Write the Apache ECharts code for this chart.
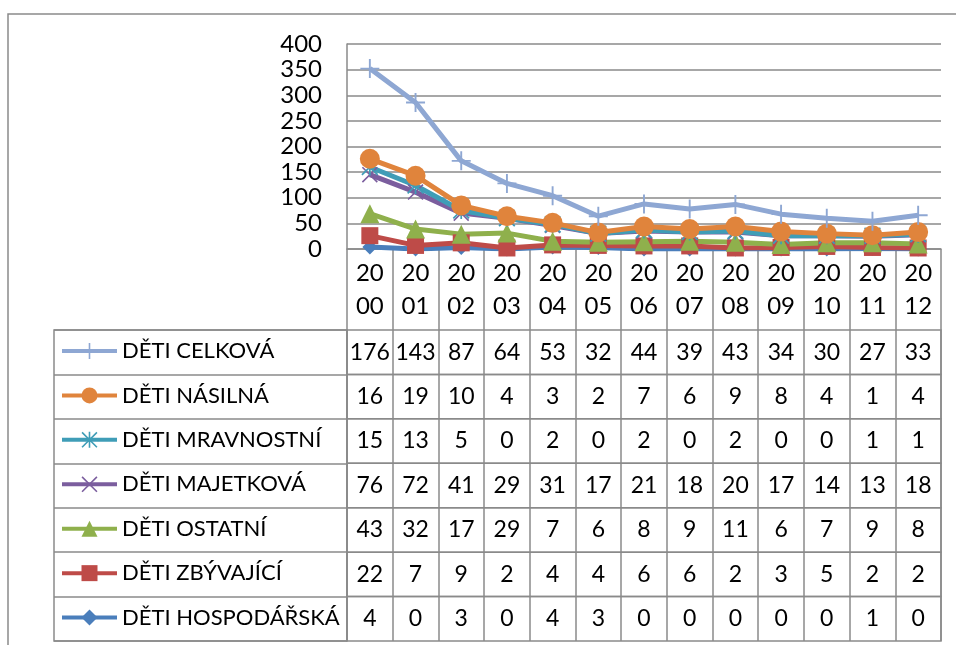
<!DOCTYPE html>
<html>
<head>
<meta charset="utf-8">
<script src="https://cdn.jsdelivr.net/npm/echarts@6/dist/echarts.min.js"></script>
<style>
  html, body { margin: 0; padding: 0; background: #fff; }
  #chart { width: 956px; height: 645px; }
</style>
</head>
<body>
<div id="chart"></div>
<script>
var years = ['2000','2001','2002','2003','2004','2005','2006','2007','2008','2009','2010','2011','2012'];
var celkova     = [176,143,87,64,53,32,44,39,43,34,30,27,33];
var nasilna     = [16,19,10,4,3,2,7,6,9,8,4,1,4];
var mravnostni  = [15,13,5,0,2,0,2,0,2,0,0,1,1];
var majetkova   = [76,72,41,29,31,17,21,18,20,17,14,13,18];
var ostatni     = [43,32,17,29,7,6,8,9,11,6,7,9,8];
var zbyvajici   = [22,7,9,2,4,4,6,6,2,3,5,2,2];
var hospodarska = [4,0,3,0,4,3,0,0,0,0,0,1,0];
var yTicks = { min: 0, max: 400, step: 50 };

// layout
var FONT = 'Lato';
var FS = 24;
var GRAY = '#8a8a8a';
var PLOT_L = 347, PLOT_R = 15, PLOT_T = 44, PLOT_B = 396;
var HEAD_B = 330, TABLE_B = 641, LEFT_COL = 54;
var ROW_H = (TABLE_B - HEAD_B) / 7;

var P_PLUS = 'path://M9,0L11,0L11,9L20,9L20,11L11,11L11,20L9,20L9,11L0,11L0,9L9,9Z';
var P_X = 'path://M1.4,0L20,18.6L18.6,20L0,1.4ZM18.6,0L20,1.4L1.4,20L0,18.6Z';
var P_STAR = 'path://M1.4,0L20,18.6L18.6,20L0,1.4ZM18.6,0L20,1.4L1.4,20L0,18.6ZM9,0L11,0L11,20L9,20Z';

// bottom of the stack first (Excel series order)
var seriesDefs = [
  { name: 'DĚTI HOSPODÁŘSKÁ', data: hospodarska, color: '#4a7ebb', symbol: 'diamond', size: 15 },
  { name: 'DĚTI ZBÝVAJÍCÍ',   data: zbyvajici,   color: '#be4b48', symbol: 'rect',    size: 17 },
  { name: 'DĚTI OSTATNÍ',     data: ostatni,     color: '#8fb04c', symbol: 'triangle', size: 19 },
  { name: 'DĚTI MAJETKOVÁ',   data: majetkova,   color: '#7b5e9e', symbol: P_X,       size: 16 },
  { name: 'DĚTI MRAVNOSTNÍ',  data: mravnostni,  color: '#3f9db7', symbol: P_STAR,    size: 17 },
  { name: 'DĚTI NÁSILNÁ',     data: nasilna,     color: '#e0843c', symbol: 'circle',  size: 20 },
  { name: 'DĚTI CELKOVÁ',     data: celkova,     color: '#8ea7d3', symbol: P_PLUS,    size: 19 }
];
// the data table lists them top of the stack first
var tableRows = seriesDefs.slice().reverse();

var grids = [{ left: PLOT_L, right: PLOT_R, top: PLOT_T, bottom: PLOT_B }];
var xAxes = [{
  type: 'category', data: years, gridIndex: 0, boundaryGap: true,
  axisLine: { lineStyle: { color: GRAY, width: 1.5 } },
  axisTick: { show: true, interval: 0, length: HEAD_B - (645 - PLOT_B), lineStyle: { color: GRAY, width: 1.5 } },
  axisLabel: {
    interval: 0, margin: 8, color: '#000', fontFamily: FONT, fontSize: FS, lineHeight: 33,
    formatter: function (v) { return v.slice(0, 2) + '\n' + v.slice(2); }
  }
}];
var yAxes = [{
  type: 'value', gridIndex: 0, min: yTicks.min, max: yTicks.max, interval: yTicks.step,
  axisLine: { show: true, lineStyle: { color: GRAY, width: 1.5 } },
  axisTick: { show: false },
  axisLabel: { margin: 25, color: '#000', fontFamily: FONT, fontSize: FS },
  splitLine: { lineStyle: { color: GRAY, width: 1.5 } }
}];
var legends = [];

tableRows.forEach(function (row, i) {
  var top = HEAD_B + i * ROW_H;
  grids.push({ left: PLOT_L, right: PLOT_R, top: top, height: ROW_H, show: true,
    borderColor: GRAY, borderWidth: 1.5, backgroundColor: 'transparent' });
  xAxes.push({
    type: 'category', data: years, gridIndex: i + 1,
    axisLine: { show: false }, axisTick: { show: false },
    splitLine: { show: true, interval: 0, lineStyle: { color: GRAY, width: 1.5 } },
    axisLabel: {
      interval: 0, margin: -ROW_H / 2, verticalAlign: 'middle',
      color: '#000', fontFamily: FONT, fontSize: 23,
      formatter: function (v, idx) { return String(row.data[idx]); }
    }
  });
  yAxes.push({ type: 'value', gridIndex: i + 1, show: false });
  legends.push({
    data: [row.name], left: 60, top: top + 10, padding: 0, selectedMode: false,
    itemWidth: 55, itemHeight: 20,
    lineStyle: { width: 4 },
    textStyle: { color: '#000', fontFamily: FONT, fontSize: 22 }
  });
});

// left column of the table (legend cells)
grids.push({ left: LEFT_COL, width: PLOT_L - LEFT_COL, top: HEAD_B, height: TABLE_B - HEAD_B,
  show: true, borderColor: GRAY, borderWidth: 1.5, backgroundColor: 'transparent' });
xAxes.push({ type: 'value', gridIndex: 8, show: false });
yAxes.push({
  type: 'category', gridIndex: 8, inverse: true, data: tableRows.map(function (r) { return r.name; }),
  axisLine: { show: false }, axisTick: { show: false }, axisLabel: { show: false },
  splitLine: { show: true, interval: 0, lineStyle: { color: GRAY, width: 1.5 } }
});

var option = {
  animation: false,
  backgroundColor: '#fff',
  textStyle: { fontFamily: FONT },
  graphic: [{
    type: 'rect', silent: true, z: -10,
    shape: { x: 8, y: 14, width: 1000, height: 700 },
    style: { fill: 'none', stroke: GRAY, lineWidth: 1.5 }
  }],
  grid: grids,
  xAxis: xAxes,
  yAxis: yAxes,
  legend: legends,
  series: seriesDefs.map(function (s) {
    return {
      name: s.name, type: 'line', stack: 'total',
      xAxisIndex: 0, yAxisIndex: 0,
      data: s.data,
      symbol: s.symbol, symbolSize: s.size,
      showSymbol: true, showAllSymbol: true,
      lineStyle: { color: s.color, width: 5 },
      itemStyle: { color: s.color, borderWidth: 0 }
    };
  })
};

var myChart = echarts.init(document.getElementById('chart'));
myChart.setOption(option);
</script>
</body>
</html>
